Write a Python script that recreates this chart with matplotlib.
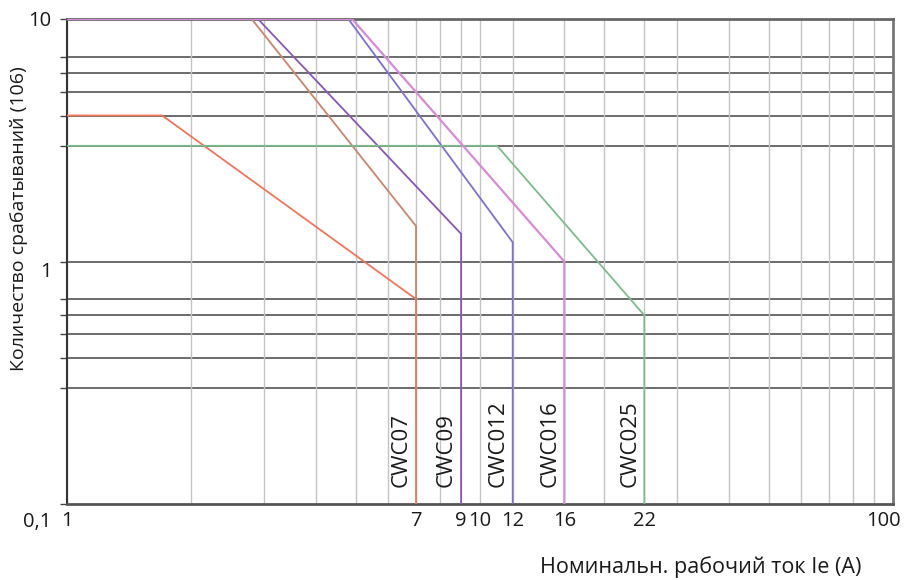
import matplotlib
matplotlib.use("Agg")
import matplotlib.pyplot as plt
from matplotlib.ticker import LogLocator, FixedLocator, NullFormatter
import matplotlib.transforms as mtransforms

plt.rcParams['font.family'] = ['Open Sans', 'DejaVu Sans']

# ---- data ----
series_names = ["CWC07", "CWC07b", "CWC09", "CWC012", "CWC016", "CWC025"]
cwc07_x = [1, 1.7, 7, 7]
cwc07_y = [4, 4, 0.7, 0.1]
cwc07b_x = [1, 2.8, 7, 7]
cwc07b_y = [10, 10, 1.4, 0.7]
cwc09_x = [1, 2.9, 9, 9]
cwc09_y = [10, 10, 1.3, 0.1]
cwc012_x = [1, 4.8, 12, 12]
cwc012_y = [10, 10, 1.2, 0.1]
cwc016_x = [1, 4.9, 16, 16]
cwc016_y = [10, 10, 1.0, 0.1]
cwc025_x = [1, 11, 25, 25]
cwc025_y = [3, 3, 0.6, 0.1]

label_names = ["CWC07", "CWC09", "CWC012", "CWC016", "CWC025"]
label_x = [7, 9, 12, 16, 25]

xtick_pos = [1, 7, 9, 10, 12, 16, 25, 100]
xtick_labels = ["1", "7", "9", "10", "12", "16", "22", "100"]
ytick_pos = [0.1, 1, 10]
ytick_labels = ["0,1", "1", "10"]
hgrid_values = [0.3, 0.4, 0.5, 0.6, 0.7, 1, 3, 4, 5, 6, 7]

xlabel = "Номинальн. рабочий ток Ie (А)"
ylabel = "Количество срабатываний (106)"

# ---- figure ----
fig = plt.figure(figsize=(9.07, 5.80), dpi=100)
ax = fig.add_axes([67/907, 1-504/580, (893-67)/907, (504-19)/580])
ax.set_xscale("log")
ax.set_yscale("log")
ax.set_xlim(1, 100)
ax.set_ylim(0.1, 10)

# grid
ax.xaxis.set_minor_locator(LogLocator(base=10, subs=range(2, 10)))
ax.xaxis.set_minor_formatter(NullFormatter())
ax.grid(True, which="both", axis="x", color="#c4c4c4", lw=1.0, zorder=0)
for v in hgrid_values:
    ax.axhline(v, color="#444444", lw=1.1, zorder=1)

# curves
ax.plot(cwc07b_x, cwc07b_y, color="#c9856a", lw=1.3, zorder=3)
ax.plot(cwc07_x, cwc07_y, color="#f27459", lw=1.3, zorder=3)
ax.plot(cwc09_x, cwc09_y, color="#8b55b8", lw=1.3, zorder=3)
ax.plot(cwc012_x, cwc012_y, color="#7c70d0", lw=1.3, zorder=3)
ax.plot(cwc025_x, cwc025_y, color="#7dbb8c", lw=1.3, zorder=3)
ax.plot(cwc016_x, cwc016_y, color="#d78ad8", lw=1.6, zorder=4)

# curve labels
for name, xv in zip(label_names, label_x):
    ax.annotate(name, xy=(xv, 0.117), xytext=(-3, 0), textcoords="offset points",
                rotation=90, ha="right", va="bottom", fontsize=16, color="#1a1a1a")

# ticks
ax.set_xticks(xtick_pos)
ax.set_xticklabels(xtick_labels)
ax.tick_params(axis="x", which="both", length=0, pad=5, labelsize=14.5, colors="#1a1a1a")
xlab_objs = ax.get_xticklabels()
xlab_objs[-1].set_transform(xlab_objs[-1].get_transform() +
                            mtransforms.ScaledTranslation(-10 / 100, 0, fig.dpi_scale_trans))
ax.set_yticks(ytick_pos)
ax.set_yticklabels(ytick_labels)
ax.yaxis.set_minor_locator(FixedLocator(hgrid_values))
ax.yaxis.set_minor_formatter(NullFormatter())
ax.tick_params(axis="y", which="both", length=5, width=1, color="#444444",
               pad=6, labelsize=14.5, labelcolor="#1a1a1a")
offsets_px = [-16, -8, 0]
for lab, off in zip(ax.get_yticklabels(), offsets_px):
    lab.set_transform(lab.get_transform() +
                      mtransforms.ScaledTranslation(0, off / 100, fig.dpi_scale_trans))

# spines
ax.spines["left"].set_color("#333333")
ax.spines["left"].set_linewidth(1.5)
ax.spines["bottom"].set_color("#555555")
ax.spines["bottom"].set_linewidth(2)
ax.spines["right"].set_color("#777777")
ax.spines["right"].set_linewidth(2)
ax.spines["top"].set_color("#666666")
ax.spines["top"].set_linewidth(2)
for s in ax.spines.values():
    s.set_zorder(2)

# axis titles
fig.text(701/907, 1-567/580, xlabel, ha="center", va="center", fontsize=15.5, color="#1a1a1a")
fig.text(19/907, 1-219/580, ylabel, ha="center", va="center", rotation=90,
         fontsize=14.0, color="#1a1a1a")

fig.savefig("out.png", dpi=100)
